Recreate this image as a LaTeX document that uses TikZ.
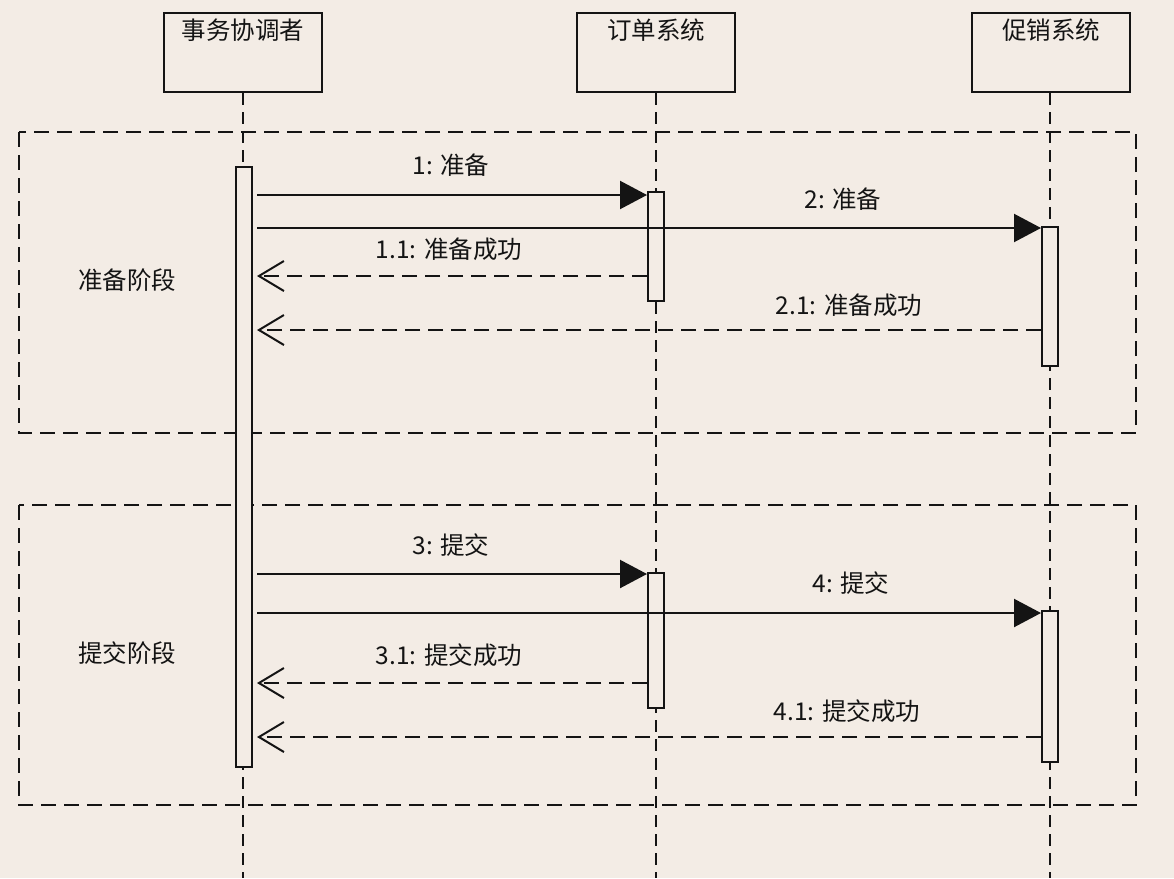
\documentclass[tikz,border=0pt]{standalone}
\usepackage{fontspec}
\setmainfont{Noto Sans CJK SC}
\usetikzlibrary{arrows.meta}
\definecolor{bg}{RGB}{243,236,229}
\definecolor{ink}{RGB}{20,20,20}
\begin{document}
\begin{tikzpicture}[x=1pt,y=-1pt,
  every node/.style={font=\fontsize{24.5}{28}\selectfont, text=ink},
  part/.style={draw=ink, line width=2pt, fill=bg, minimum width=158pt, minimum height=79pt, inner sep=0pt},
  act/.style={draw=ink, line width=2pt, fill=bg, minimum width=16pt, inner sep=0pt},
  life/.style={draw=ink, line width=2pt, dash pattern=on 12pt off 7pt},
  framebox/.style={draw=ink, line width=2pt, dash pattern=on 15pt off 8pt},
  call/.style={draw=ink, line width=2.2pt, -{Triangle[length=27pt,width=28pt]}},
  reply/.style={draw=ink, line width=2.2pt, dash pattern=on 15pt off 8pt, -{Straight Barb[length=25pt,width=30pt,line width=2pt]}},
  lbl/.style={inner sep=0pt}
]
\useasboundingbox (0,0) rectangle (1174,878);
\fill[bg] (0,0) rectangle (1174,878);

% frames
\draw[framebox] (19,132) rectangle (1136,433);
\draw[framebox] (19,505) rectangle (1136,805);

% participants
\node[part] (p1) at (243,52.5) {};
\node[part] (p2) at (656,52.5) {};
\node[part] (p3) at (1051,52.5) {};
\node[lbl] (t1) at (243,30) {事务协调者};
\node[lbl] (t2) at (656,30) {订单系统};
\node[lbl] (t3) at (1051,30) {促销系统};

% lifelines
\coordinate (e1) at (243,878);
\coordinate (e2) at (656,878);
\coordinate (e3) at (1050,878);
\draw[life] (p1.south) -- (e1);
\draw[life] (p2.south) -- (e2);
\draw[life] (p3.south -| e3) -- (e3);

% activations
\node[act, minimum height=600pt] (a1) at (244,467) {};
\node[act, minimum height=109pt] (b1) at (656,246.5) {};
\node[act, minimum height=139pt] (c1) at (1050,296.5) {};
\node[act, minimum height=135pt] (b2) at (656,640.5) {};
\node[act, minimum height=151pt] (c2) at (1050,686.5) {};

% message rows
\coordinate (m1) at (0,195);
\coordinate (m2) at (0,228);
\coordinate (r1) at (0,276);
\coordinate (r2) at (0,330);
\coordinate (m3) at (0,574);
\coordinate (m4) at (0,613);
\coordinate (r3) at (0,683);
\coordinate (r4) at (0,737);

\draw[call] ([xshift=4pt]a1.east |- m1) -- (b1.west |- m1);
\draw[call] ([xshift=4pt]a1.east |- m2) -- (c1.west |- m2);
\draw[reply] (b1.west |- r1) -- ([xshift=4pt]a1.east |- r1);
\draw[reply] (c1.west |- r2) -- ([xshift=4pt]a1.east |- r2);
\draw[call] ([xshift=4pt]a1.east |- m3) -- (b2.west |- m3);
\draw[call] ([xshift=4pt]a1.east |- m4) -- (c2.west |- m4);
\draw[reply] (b2.west |- r3) -- ([xshift=4pt]a1.east |- r3);
\draw[reply] (c2.west |- r4) -- ([xshift=4pt]a1.east |- r4);

% labels
\node[lbl] (l1) at (451,165) {1: 准备};
\node[lbl] (l2) at (843,199) {2: 准备};
\node[lbl] (l11) at (449,249) {1.1: 准备成功};
\node[lbl] (l21) at (849,305) {2.1: 准备成功};
\node[lbl] (l3) at (451,545) {3: 提交};
\node[lbl] (l4) at (851,583) {4: 提交};
\node[lbl] (l31) at (449,655) {3.1: 提交成功};
\node[lbl] (l41) at (847,711) {4.1: 提交成功};
\node[lbl] (s1) at (127,280) {准备阶段};
\node[lbl] (s2) at (127,653) {提交阶段};
\end{tikzpicture}
\end{document}
